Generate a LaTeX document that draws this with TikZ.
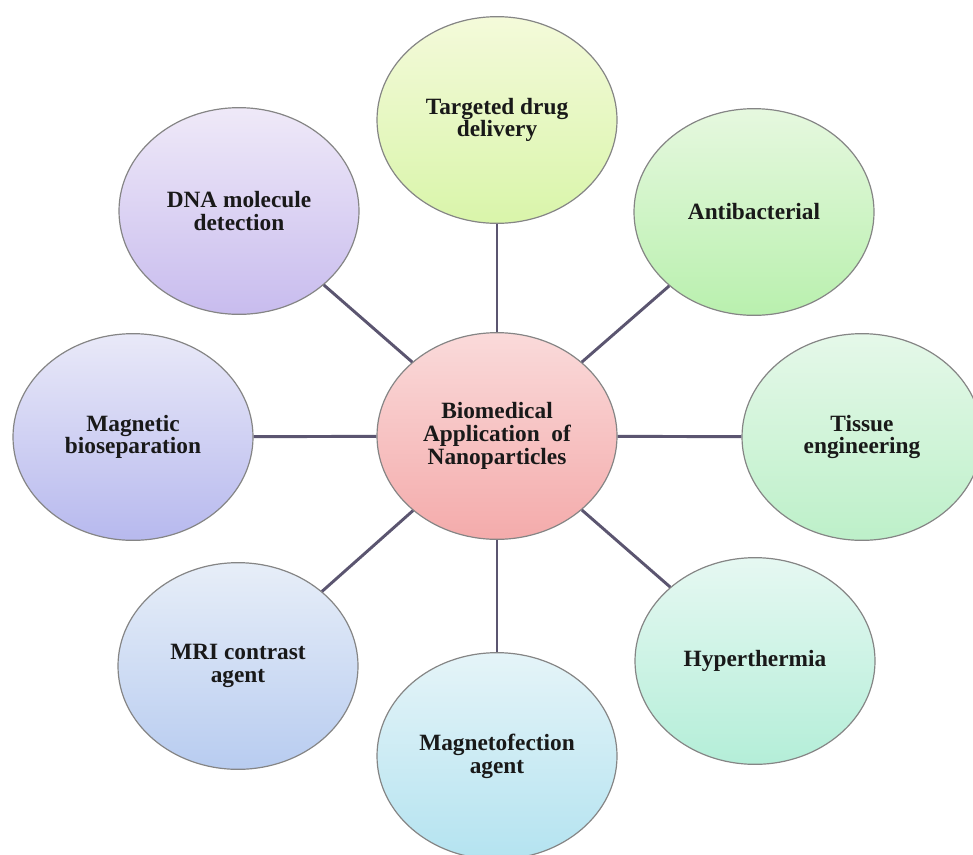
\documentclass[tikz,border=0pt]{standalone}
\usepackage{fontspec}
\setmainfont{Liberation Serif}
\usepackage{tikz}
\usetikzlibrary{shapes.geometric}
\usepackage{xcolor}

\definecolor{linkgray}{HTML}{5B5570}
\definecolor{rimgray}{HTML}{858585}
\definecolor{pinktop}{HTML}{FADADA}
\definecolor{pinkbot}{HTML}{F4ABAB}
\definecolor{limetop}{HTML}{F4FADA}
\definecolor{limebot}{HTML}{D9F5AA}
\definecolor{greentop}{HTML}{E6F8DF}
\definecolor{greenbot}{HTML}{B9F0AE}
\definecolor{minttop}{HTML}{E5F8E9}
\definecolor{mintbot}{HTML}{BDF0C9}
\definecolor{aquatop}{HTML}{E6F8F2}
\definecolor{aquabot}{HTML}{B4EED8}
\definecolor{cyantop}{HTML}{E5F4F8}
\definecolor{cyanbot}{HTML}{B4E3F0}
\definecolor{skytop}{HTML}{E7EEF8}
\definecolor{skybot}{HTML}{B8CCF0}
\definecolor{lavtop}{HTML}{E9E9F8}
\definecolor{lavbot}{HTML}{B7B9EE}
\definecolor{liltop}{HTML}{EFE9F8}
\definecolor{lilbot}{HTML}{C8BCEE}

\begin{document}
\begin{tikzpicture}[x=0.75pt,y=-0.75pt]
		\tikzstyle{bubble} = [ellipse, draw=rimgray, line width=0.9pt, minimum width=180pt, minimum height=155pt, align=center, text=black!90, font=\fontsize{17.5}{17}\selectfont\bfseries]
		\tikzstyle{link} = [draw=linkgray, line width=2.2pt]
		\useasboundingbox (0,0) rectangle (973,854);

		% hub
		\node[bubble, top color=pinktop, bottom color=pinkbot] (b0) at (497,436) {Biomedical\\Application\ \ of\\Nanoparticles};

		% applications, clockwise from the top
		\node[bubble, top color=limetop, bottom color=limebot] (a1) at (497,120) {Targeted drug\\delivery};
		\node[bubble, top color=greentop, bottom color=greenbot] (a2) at (754,212) {Antibacterial};
		\node[bubble, top color=minttop, bottom color=mintbot] (a3) at (862,437) {Tissue\\engineering};
		\node[bubble, top color=aquatop, bottom color=aquabot] (a4) at (755,661) {Hyperthermia};
		\node[bubble, top color=cyantop, bottom color=cyanbot] (a5) at (497,756) {\\[-4pt]Magnetofection\\agent};
		\node[bubble, top color=skytop, bottom color=skybot] (a6) at (238,666) {MRI contrast\\agent};
		\node[bubble, top color=lavtop, bottom color=lavbot] (a7) at (133,437) {Magnetic\\bioseparation};
		\node[bubble, top color=liltop, bottom color=lilbot] (a8) at (239,211) {DNA molecule\\detection};

		\draw [link] (b0) -- (a1);
		\draw [link] (b0) -- (a2);
		\draw [link] (b0) -- (a3);
		\draw [link] (b0) -- (a4);
		\draw [link] (b0) -- (a5);
		\draw [link] (b0) -- (a6);
		\draw [link] (b0) -- (a7);
		\draw [link] (b0) -- (a8);

\end{tikzpicture}
\end{document}
